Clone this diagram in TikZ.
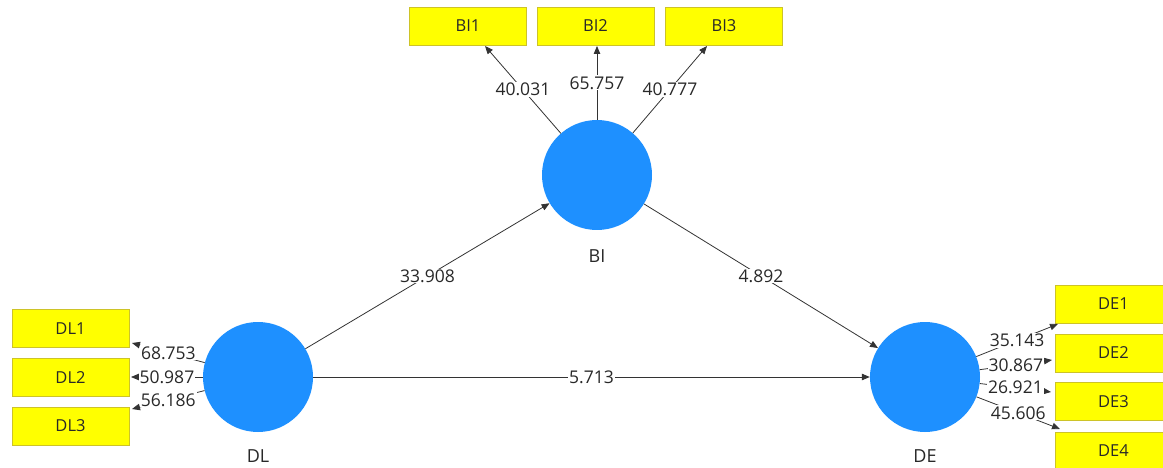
\documentclass[tikz,border=0pt]{standalone}
\usepackage{fontspec}
\setmainfont{Open Sans}
\usetikzlibrary{arrows.meta}
\definecolor{lv}{RGB}{30,144,255}
\definecolor{ind}{RGB}{255,255,0}
\definecolor{indb}{RGB}{205,195,40}
\definecolor{txt}{RGB}{40,40,40}
\tikzset{
  latent/.style={circle,fill=lv,minimum size=110pt,inner sep=0pt},
  indbox/.style={rectangle,fill=ind,draw=indb,line width=0.8pt,minimum width=117pt,minimum height=38pt,inner sep=0pt,font=\fontsize{16.5}{18}\selectfont,text=txt},
  lvname/.style={font=\fontsize{18}{20}\selectfont,text=txt},
  conn/.style={line width=0.8pt,draw=black!80,-{Triangle[length=8pt,width=6.5pt]}},
  val/.style={fill=white,inner sep=1pt,font=\fontsize{17.5}{19}\selectfont,text=txt},
}
\begin{document}
\begin{tikzpicture}[x=1pt,y=-1pt]
\useasboundingbox (0,0) rectangle (1163,468);
% latent variables
\node[latent] (BI) at (597,175) {};
\node[latent] (DL) at (258,377) {};
\node[latent] (DE) at (925,377) {};
\node[lvname] (BIn) at (597,256) {BI};
\node[lvname] (DLn) at (258,456) {DL};
\node[lvname] (DEn) at (925,456) {DE};
% indicators
\node[indbox] (BI1) at (468,26) {BI1};
\node[indbox] (BI2) at (595.5,26) {BI2};
\node[indbox] (BI3) at (724,26) {BI3};
\node[indbox] (DL1) at (70.5,328.5) {DL1};
\node[indbox] (DL2) at (70.5,377.5) {DL2};
\node[indbox] (DL3) at (70.5,426) {DL3};
\node[indbox] (DE1) at (1113.5,304) {DE1};
\node[indbox] (DE2) at (1113.5,353) {DE2};
\node[indbox] (DE3) at (1113.5,401.5) {DE3};
\node[indbox] (DE4) at (1113.5,451) {DE4};
% arrow end points
\coordinate (eBI1) at (485,46);
\coordinate (eBI2) at (597,46);
\coordinate (eBI3) at (707,46);
\coordinate (eDL1) at (132,343);
\coordinate (eDL2) at (131,377);
\coordinate (eDL3) at (132,409);
\coordinate (eDE1) at (1058,324);
\coordinate (eDE2) at (1052,360);
\coordinate (eDE3) at (1051,392);
\coordinate (eDE4) at (1060,429);
% outer loadings
\draw[conn] (BI) -- node[val]{40.031} (eBI1);
\draw[conn] (BI) -- node[val]{65.757} (eBI2);
\draw[conn] (BI) -- node[val]{40.777} (eBI3);
\draw[conn] (DL) -- node[val]{68.753} (eDL1);
\draw[conn] (DL) -- node[val]{50.987} (eDL2);
\draw[conn] (DL) -- node[val]{56.186} (eDL3);
\draw[conn] (DE) -- node[val]{35.143} (eDE1);
\draw[conn] (DE) -- node[val]{30.867} (eDE2);
\draw[conn] (DE) -- node[val]{26.921} (eDE3);
\draw[conn] (DE) -- node[val]{45.606} (eDE4);
% structural paths
\draw[conn] (DL) -- node[val]{33.908} (BI);
\draw[conn] (BI) -- node[val]{4.892} (DE);
\draw[conn] (DL) -- node[val]{5.713} (DE);
\end{tikzpicture}
\end{document}
